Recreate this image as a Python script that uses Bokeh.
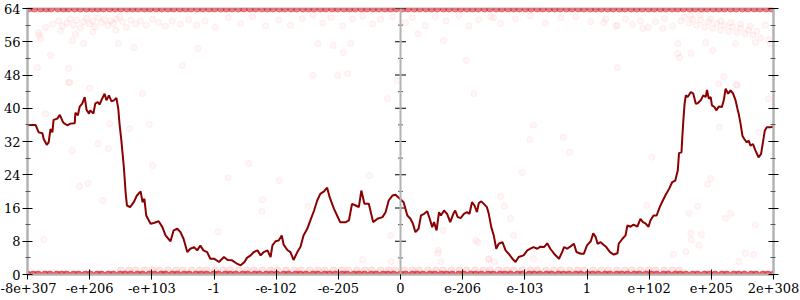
from bokeh.plotting import figure
from bokeh.models import Range1d, FixedTicker, LinearAxis, Span
from bokeh.embed import file_html
from bokeh.resources import INLINE

# ---- data ----
x_tick_pos = [0, 1, 2, 3, 4, 5, 6, 7, 8, 9, 10, 11, 12]
x_tick_labels = ["-8e+307", "-e+206", "-e+103", "-1", "-e-102", "-e-205", "0",
                 "e-206", "e-103", "1", "e+102", "e+205", "2e+308"]
y_major = [0, 8, 16, 24, 32, 40, 48, 56, 64]
y_minor = [4, 12, 20, 28, 36, 44, 52, 60]
zero_pos = [6]

line_x = [0.00,0.13,0.18,0.24,0.26,0.31,0.34,0.37,0.40,0.42,0.48,0.52,0.56,0.58,0.64,0.69,0.76,0.77,0.81,0.84,
          0.88,0.92,0.95,0.99,1.01,1.06,1.09,1.13,1.16,1.20,1.24,1.27,1.31,1.35,1.39,1.43,1.46,1.48,1.51,1.55,
          1.58,1.60,1.65,1.71,1.76,1.82,1.85,1.88,1.91,1.98,2.03,2.11,2.17,2.22,2.30,2.35,2.41,2.46,2.51,2.57,
          2.62,2.68,2.73,2.78,2.83,2.89,2.94,3.00,3.08,3.16,3.22,3.29,3.36,3.43,3.49,3.53,3.59,3.64,3.70,3.75,
          3.80,3.86,3.91,3.94,3.99,4.04,4.09,4.12,4.18,4.23,4.28,4.34,4.39,4.44,4.50,4.55,4.61,4.66,4.71,4.77,
          4.82,4.86,4.93,4.98,5.03,5.12,5.17,5.22,5.28,5.33,5.37,5.42,5.49,5.56,5.63,5.71,5.76,5.81,5.87,5.92,
          5.99,6.05,6.11,6.16,6.20,6.24,6.29,6.33,6.38,6.43,6.47,6.51,6.54,6.58,6.62,6.65,6.70,6.75,6.80,6.85,
          6.88,6.92,6.97,7.02,7.07,7.11,7.15,7.19,7.23,7.26,7.30,7.34,7.39,7.42,7.46,7.50,7.54,7.58,7.64,7.69,
          7.74,7.80,7.85,7.90,7.98,8.04,8.09,8.14,8.20,8.25,8.31,8.36,8.41,8.47,8.55,8.60,8.63,8.68,8.73,8.79,
          8.83,8.90,8.95,9.00,9.06,9.10,9.14,9.17,9.22,9.26,9.31,9.37,9.43,9.49,9.51,9.57,9.62,9.65,9.70,9.75,
          9.81,9.86,9.90,9.94,9.99,10.02,10.07,10.12,10.17,10.21,10.26,10.32,10.37,10.42,10.46,10.48,10.52,10.53,10.55,10.57,
          10.59,10.62,10.67,10.71,10.75,10.78,10.83,10.87,10.91,10.93,10.96,10.99,11.01,11.05,11.08,11.12,11.17,11.20,11.23,11.27,
          11.31,11.35,11.39,11.42,11.44,11.47,11.50,11.53,11.57,11.60,11.63,11.67,11.71,11.76,11.80,11.83,11.86,11.89,11.95,12.00]
line_y = [36.0,36.0,34.2,34.0,32.6,31.2,31.8,35.0,34.2,37.2,37.5,38.4,37.0,36.5,35.9,36.3,36.4,38.9,38.3,40.4,
          41.1,42.7,39.6,38.7,39.5,38.7,41.1,41.5,40.9,42.3,43.5,41.9,43.1,41.7,41.9,42.5,39.9,36.3,32.2,25.8,
          19.4,16.6,16.2,17.4,19.0,20.0,17.4,18.2,14.2,12.2,12.4,12.8,11.4,9.4,8.0,10.6,11.0,10.2,8.6,5.4,
          6.2,6.6,5.8,7.0,5.8,5.4,3.8,3.8,3.0,4.2,3.5,3.4,2.7,2.2,3.0,4.0,4.6,5.4,5.8,4.6,
          5.4,5.8,4.2,7.0,8.0,8.2,9.4,7.2,5.9,5.4,3.5,5.4,6.6,9.4,11.0,13.0,15.4,17.8,19.4,20.0,
          20.9,18.6,15.8,14.2,12.6,12.6,13.0,17.0,16.6,16.2,20.2,17.0,17.0,12.6,13.4,13.8,15.0,17.8,19.0,19.2,
          18.2,17.4,14.2,13.4,12.2,10.2,11.0,14.2,14.6,15.2,13.4,11.4,12.6,10.6,15.0,14.2,15.4,14.6,12.6,14.6,
          15.4,13.8,13.6,14.6,15.0,14.6,17.4,16.6,15.0,17.2,17.6,17.0,16.2,14.6,11.4,9.4,6.2,7.4,7.8,5.8,
          5.0,3.8,3.0,4.2,4.6,5.8,6.2,6.6,6.2,6.7,6.6,7.5,6.2,5.0,3.8,5.4,6.6,6.2,6.7,7.4,
          5.4,5.0,5.0,7.0,8.0,9.9,9.0,7.4,7.8,7.2,6.6,5.4,4.8,5.1,7.4,8.6,9.4,11.8,11.5,12.0,
          11.5,13.4,12.6,12.3,11.5,13.0,14.2,14.2,16.2,17.5,19.0,20.6,22.2,22.6,25.0,29.2,29.4,32.2,37.1,41.1,
          43.1,42.7,43.9,43.5,41.1,41.2,41.9,43.1,42.7,44.4,42.3,42.7,40.7,40.3,39.5,40.4,40.3,41.9,44.7,43.5,
          44.3,43.5,41.9,39.9,38.7,36.3,33.4,32.6,31.8,32.2,31.0,31.4,29.8,28.2,29.0,31.8,34.6,35.4,35.4,35.6]

cloud_x = [0.29,0.40,0.50,0.56,0.63,0.69,0.74,0.79,0.85,0.90,0.95,1.00,1.05,1.09,1.14,1.19,1.24,1.29,1.34,1.38,
           1.43,1.48,1.53,1.59,1.66,1.74,1.82,1.91,2.01,2.11,2.22,2.33,2.46,2.59,2.72,0.18,0.53,1.05,1.42,0.77,
           2.86,3.02,3.23,3.43,3.62,3.83,4.04,4.23,4.42,4.59,4.75,4.88,5.07,5.23,5.39,5.55,5.68,5.87,6.08,6.19,
           6.40,6.56,6.73,6.94,7.10,7.26,7.45,7.61,7.85,8.09,8.33,8.58,8.82,9.06,9.30,9.46,
           9.62,9.73,9.86,9.99,10.10,10.25,10.38,10.51,10.57,10.64,10.70,10.76,10.83,10.89,10.96,11.02,11.09,11.15,11.21,11.28,
           11.34,11.41,11.47,11.54,11.60,11.67,11.73,11.79,10.67,10.83,10.99,11.15,11.31,11.47,11.63,11.87,11.95,
           0.18,0.21,0.37,0.16,0.66,0.66,1.00,0.72,1.71,2.49,2.74,1.46,0.90,1.85,
           9.27,9.49,9.90,10.22,10.46,10.46,10.67,10.91,11.39,11.71,11.92,11.02,10.49,9.49,11.20,11.12,11.42,
           4.67,4.92,5.20,5.08,4.59,4.99,5.15,5.95,5.79,6.28,6.69,7.06,7.18,7.50,
           2.01,3.56,3.23,4.05,3.78,3.77,3.07,0.68,0.29,1.32,1.96,1.64,1.14,1.30,0.72,0.84,0.97,1.21,0.26,
           5.50,5.84,5.39,4.51,7.61,7.67,7.77,7.82,7.24,6.60,6.65,7.42,7.51,6.69,
           8.14,8.08,8.62,8.72,7.96,10.04,9.96,8.14,10.64,10.78,11.23,11.31,11.71,10.67,10.84,10.68,10.80,10.59,10.39,11.55,
           11.68,11.44,11.40,11.92,11.13,11.76,10.99,10.94,5.85,6.61,7.21,7.42]
cloud_y = [59.5,60.2,61.0,59.8,60.5,61.5,60.0,61.2,59.3,60.8,61.6,60.3,61.0,59.6,61.8,60.6,61.3,59.9,61.0,60.4,
           61.5,62.0,60.8,59.5,61.2,60.3,61.0,60.0,61.4,60.6,59.7,61.0,60.2,61.3,60.0,57.5,58.5,58.4,58.8,57.8,
           61.0,59.5,61.8,60.4,62.0,59.8,61.2,60.0,61.6,62.4,60.5,61.8,59.8,61.5,62.2,60.3,61.4,62.0,60.6,61.8,
           59.9,62.0,61.0,62.3,59.8,61.3,62.0,60.4,61.5,62.2,60.5,61.8,62.0,60.8,61.4,59.8,
           61.5,60.2,61.0,59.5,60.8,61.6,59.8,61.0,62.0,60.5,61.4,60.0,61.2,59.6,60.8,59.2,60.4,58.8,60.0,58.5,
           59.6,58.2,59.3,57.9,58.8,57.6,58.5,56.9,62.2,62.5,61.5,61.0,60.6,60.2,59.7,60.0,55.5,
           58.2,56.8,52.7,49.8,49.6,46.2,44.8,56.3,54.6,50.3,54.4,55.6,55.6,43.5,
           60.6,59.9,59.2,59.2,55.6,53.2,53.2,55.8,55.6,55.8,56.5,53.9,52.2,49.8,47.6,45.9,45.5,
           55.6,55.1,55.6,53.4,47.9,47.9,48.3,46.7,42.3,57.9,56.3,51.5,43.5,61.8,
           26.2,26.7,23.3,22.6,18.0,15.2,10.3,46.2,38.7,36.3,36.1,35.1,31.5,30.3,29.8,21.2,21.9,17.8,8.4,
           23.8,9.4,3.6,16.4,18.8,16.4,13.5,9.4,7.7,5.1,3.1,3.8,3.1,10.6,
           35.9,32.5,33.0,29.4,24.5,28.2,16.6,3.8,14.7,16.4,13.5,14.7,12.0,9.9,9.6,8.4,7.0,5.5,4.8,5.1,
           4.8,3.1,45.7,42.3,35.4,34.2,23.1,21.7,3.1,5.8,8.2,3.6]

edge_low_x = [0.00,0.09,0.17,0.28,0.36,0.47,0.55,0.63,0.74,0.82,0.93,1.01,1.12,1.19,1.30,1.38,1.49,1.57,1.66,1.77,
              1.85,1.96,2.04,2.15,2.22,2.33,2.41,2.52,2.60,2.71,2.79,2.88,2.99,3.07,3.18,3.26,3.35,3.46,3.54,3.65,
              3.73,3.84,3.92,4.01,4.12,4.20,4.31,4.39,4.48,4.59,4.67,4.78,4.86,4.95,5.06,5.14,5.25,5.33,5.42,5.53,
              5.61,5.72,5.80,5.89,6.00,6.08,6.19,6.27,6.36,6.47,6.55,6.66,6.74,6.83,6.94,7.02,7.13,7.21,7.30,7.41,
              7.49,7.60,7.68,7.77,7.88,7.96,8.07,8.15,8.24,8.35,8.43,8.54,8.62,8.71,8.82,8.90,9.01,9.09,9.18,9.29,
              9.37,9.48,9.56,9.65,9.76,9.84,9.95,10.03,10.12,10.23,10.31,10.42,10.50,10.59,10.70,10.78,10.89,10.97,11.06,11.17,
              11.25,11.36,11.44,11.53,11.64,11.72,11.83,11.91,12.00]
edge_high_x = [0.02,0.11,0.21,0.30,0.38,0.49,0.58,0.66,0.76,0.85,0.95,1.04,1.13,1.22,1.32,1.41,1.50,1.60,1.69,1.78,
               1.88,1.97,2.07,2.16,2.26,2.35,2.45,2.54,2.63,2.73,2.82,2.92,3.01,3.11,3.20,3.29,3.39,3.48,3.58,3.67,
               3.77,3.86,3.95,4.05,4.14,4.24,4.33,4.43,4.52,4.61,4.71,4.80,4.90,4.99,5.09,5.18,5.27,5.37,5.46,5.56,
               5.65,5.75,5.84,5.93,6.03,6.12,6.22,6.31,6.41,6.50,6.59,6.69,6.78,6.88,6.97,7.07,7.16,7.25,7.35,7.44,
               7.54,7.63,7.73,7.82,7.91,8.01,8.10,8.20,8.29,8.39,8.48,8.57,8.67,8.76,8.86,8.95,9.05,9.14,9.23,9.33,
               9.42,9.52,9.61,9.71,9.80,9.89,9.99,10.08,10.18,10.27,10.37,10.46,10.55,10.65,10.74,10.84,10.93,11.03,11.12,11.21,
               11.31,11.40,11.50,11.59,11.69,11.78,11.88,11.97]
band_one_x = [1.50,1.63,1.74,1.88,2.01,2.12,2.26,2.39,2.50,2.64,2.77,2.88,3.02,3.15,3.26,3.40,3.53,3.64,3.78,3.91,
              4.02,4.16,4.29,4.40,4.54,4.67,4.78,4.92,5.05,5.16,5.30,5.43,5.54,5.68,5.81,5.92,6.06,6.19,6.30,6.44,
              6.57,6.68,6.82,6.95,7.06,7.20,7.33,7.44,7.58,7.71,7.82,7.96,8.09,8.20,8.34,8.47,8.58,8.72,8.85,8.96,
              9.10,9.23,9.34,9.48,9.61,9.72,9.86,9.99,10.10,10.24,10.37,10.48]

RED = "#ff1a1a"
FONT = "DejaVu Serif"

p = figure(width=800, height=300, output_backend="svg", toolbar_location=None,
           x_range=Range1d(0, 12), y_range=Range1d(0, 64),
           min_border_left=27, min_border_right=27, min_border_top=8, min_border_bottom=26,
           x_axis_location=None, y_axis_location=None)
p.grid.visible = False
p.background_fill_color = "white"
p.border_fill_color = "white"
p.outline_line_color = "#b3b3b3"
p.outline_line_width = 2


def style_axis(ax, labels=True):
    ax.axis_line_color = "#b3b3b3"
    ax.axis_line_width = 2
    ax.major_tick_line_color = "black"
    ax.major_tick_line_width = 1
    ax.major_tick_in = 5
    ax.major_tick_out = 5
    ax.minor_tick_in = 3
    ax.minor_tick_out = 2
    ax.minor_tick_line_color = "#555555"
    ax.major_label_text_font = FONT
    ax.major_label_text_font_size = "13px"
    ax.major_label_text_color = "black"
    ax.major_label_standoff = 2
    if not labels:
        ax.major_label_text_font_size = "0px"
        ax.major_label_text_alpha = 0


yl = LinearAxis(ticker=FixedTicker(ticks=y_major, minor_ticks=y_minor))
style_axis(yl)
p.add_layout(yl, "left")

yr = LinearAxis(ticker=FixedTicker(ticks=y_major, minor_ticks=y_minor))
style_axis(yr, labels=False)
p.add_layout(yr, "right")

xb = LinearAxis(ticker=FixedTicker(ticks=x_tick_pos, minor_ticks=[]))
style_axis(xb)
xb.minor_tick_line_color = None
xb.major_label_overrides = {t: s for t, s in zip(x_tick_pos, x_tick_labels)}
xb.major_label_standoff = 3
p.add_layout(xb, "below")

# scatter clouds
p.scatter(cloud_x, cloud_y, size=6, fill_color=RED, fill_alpha=0.035, line_color=RED, line_alpha=0.07)
p.scatter(band_one_x, [1] * len(band_one_x), size=7, fill_color=RED, fill_alpha=0.1, line_color=RED, line_alpha=0.1)
p.scatter(edge_low_x, [0] * len(edge_low_x), size=7, fill_color="#e8202a", fill_alpha=0.7, line_color="#e8202a", line_alpha=0.6)
p.scatter(edge_high_x, [64] * len(edge_high_x), size=7, fill_color="#e8202a", fill_alpha=0.55, line_color="#e8202a", line_alpha=0.5)

# zero axis in the middle
p.add_layout(Span(location=zero_pos[0], dimension="height", line_color="#b3b3b3", line_width=2))
p.scatter(zero_pos * len(y_major), y_major, marker="dash", size=11, line_color="black", line_width=1)
p.scatter(zero_pos * len(y_minor), y_minor, marker="dash", size=5, line_color="#555555", line_width=1)

# main line
p.line(line_x, line_y, line_color="#8b0000", line_width=2)

open("out.html", "w").write(file_html(p, INLINE))
